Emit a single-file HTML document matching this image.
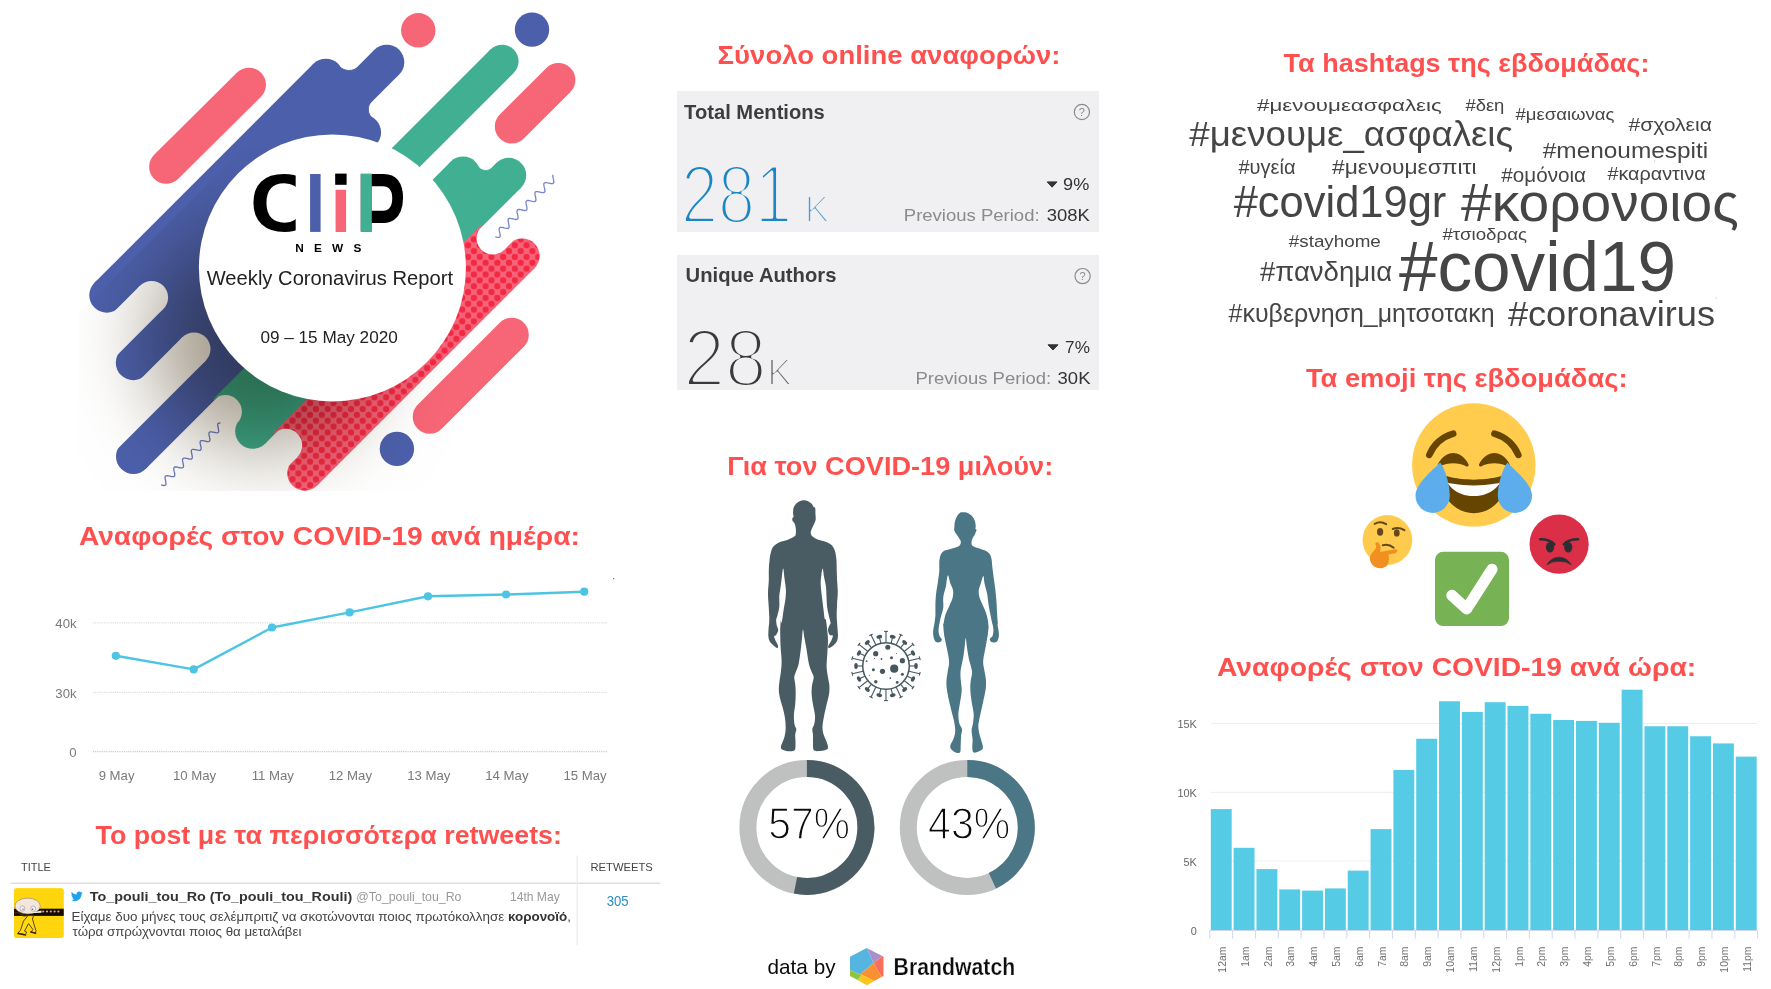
<!DOCTYPE html>
<html lang="el"><head><meta charset="utf-8"><title>CLiP News – Weekly Coronavirus Report</title>
<style>
html,body{margin:0;padding:0;background:#fff;}
body{width:1771px;height:989px;overflow:hidden;position:relative;font-family:"Liberation Sans", "DejaVu Sans", sans-serif;}
svg{position:absolute;left:0;top:0;display:block}
text{font-family:"Liberation Sans", "DejaVu Sans", sans-serif;}
</style></head><body>
<svg width="1771" height="989" viewBox="0 0 1771 989">
<defs>
<mask id="mBlue" maskUnits="userSpaceOnUse" x="0" y="0" width="700" height="520"><g stroke="#fff" fill="#fff"><line x1="106.8" y1="295.2" x2="325.8" y2="76.2" stroke-width="35"/><circle cx="106.8" cy="295.2" r="17.50" stroke="none"/><circle cx="325.8" cy="76.2" r="17.50" stroke="none"/><line x1="151.6" y1="297.4" x2="386.8" y2="62.2" stroke-width="35"/><circle cx="386.8" cy="62.2" r="17.50" stroke="none"/><line x1="133.3" y1="362.7" x2="363.6" y2="132.4" stroke-width="35"/><circle cx="133.3" cy="362.7" r="17.50" stroke="none"/><circle cx="363.6" cy="132.4" r="17.50" stroke="none"/><line x1="194.0" y1="349.0" x2="313.9" y2="229.1" stroke-width="35"/><circle cx="313.9" cy="229.1" r="17.50" stroke="none"/><line x1="133.5" y1="456.5" x2="337.4" y2="252.6" stroke-width="35"/><circle cx="133.5" cy="456.5" r="17.50" stroke="none"/><circle cx="337.4" cy="252.6" r="17.50" stroke="none"/><path d="M363.6 132.4 L351.9 120.7 L371.8 100.8 A12 12 0 0 0 373.3 119.0 Z"/><path d="M325.8 76.2 L337.5 87.9 L359.0 66.4 A14 14 0 0 1 338.4 65.5 Z"/></g><g stroke="#000" fill="#000"><line x1="12.4" y1="436.6" x2="151.6" y2="297.4" stroke-width="33"/><circle cx="12.4" cy="436.6" r="16.50" stroke="none"/><circle cx="151.6" cy="297.4" r="16.50" stroke="none"/><line x1="59.4" y1="483.6" x2="194.0" y2="349.0" stroke-width="33"/><circle cx="59.4" cy="483.6" r="16.50" stroke="none"/><circle cx="194.0" cy="349.0" r="16.50" stroke="none"/></g></mask><mask id="mGreen" maskUnits="userSpaceOnUse" x="0" y="0" width="700" height="520"><g stroke="#fff" fill="#fff"><line x1="225.4" y1="411.6" x2="463.0" y2="174.0" stroke-width="35"/><circle cx="463.0" cy="174.0" r="17.50" stroke="none"/><line x1="252.7" y1="431.3" x2="508.7" y2="175.3" stroke-width="35"/><circle cx="252.7" cy="431.3" r="17.50" stroke="none"/><circle cx="508.7" cy="175.3" r="17.50" stroke="none"/><path d="M463.0 174.0 L474.6 185.7 L492.8 167.5 A10 10 0 0 1 477.1 165.6 Z"/></g><g stroke="#000" fill="#000"><line x1="106.4" y1="530.6" x2="225.4" y2="411.6" stroke-width="33"/><circle cx="106.4" cy="530.6" r="16.50" stroke="none"/><circle cx="225.4" cy="411.6" r="16.50" stroke="none"/></g></mask><mask id="mRed" maskUnits="userSpaceOnUse" x="0" y="0" width="700" height="520"><g stroke="#fff" fill="#fff"><line x1="285.7" y1="445.3" x2="492.8" y2="238.2" stroke-width="35"/><line x1="304.8" y1="473.2" x2="522.1" y2="255.9" stroke-width="35"/><circle cx="304.8" cy="473.2" r="17.50" stroke="none"/><circle cx="522.1" cy="255.9" r="17.50" stroke="none"/></g><g stroke="#000" fill="#000"><line x1="153.4" y1="577.6" x2="285.7" y2="445.3" stroke-width="33"/><circle cx="153.4" cy="577.6" r="16.50" stroke="none"/><circle cx="285.7" cy="445.3" r="16.50" stroke="none"/><line x1="492.8" y1="238.2" x2="648.3" y2="82.7" stroke-width="32.4"/><circle cx="492.8" cy="238.2" r="16.20" stroke="none"/><circle cx="648.3" cy="82.7" r="16.20" stroke="none"/></g></mask><pattern id="polka" patternUnits="userSpaceOnUse" width="11.7" height="11.7" x="5.9" y="5.4"><rect width="11.7" height="11.7" fill="#F7647A"/><g fill="#F32943"><circle cx="0" cy="0" r="3.1"/><circle cx="11.7" cy="0" r="3.1"/><circle cx="0" cy="11.7" r="3.1"/><circle cx="11.7" cy="11.7" r="3.1"/><circle cx="5.85" cy="5.85" r="3.1"/></g></pattern><filter id="blur30" x="-50%" y="-50%" width="200%" height="200%"><feGaussianBlur stdDeviation="42"/></filter><clipPath id="artclip"><polygon points="392,0 620,0 620,491 78,491 78,314"/></clipPath><clipPath id="cclip"><rect x="0" y="-80" width="41.8" height="100"/></clipPath><clipPath id="pclip"><rect x="0" y="-90" width="70" height="76.3"/></clipPath><clipPath id="circ"><circle cx="332.4" cy="267.9" r="133.5"/></clipPath><filter id="avblur" x="-10%" y="-10%" width="120%" height="120%"><feGaussianBlur stdDeviation="0.55"/></filter>
</defs>
<text x="717.6" y="63.9" font-size="25.5" font-weight="bold" fill="#FF5050" textLength="342.9" lengthAdjust="spacingAndGlyphs">Σύνολο online αναφορών:</text>
<text x="1283.6" y="71.6" font-size="25.5" font-weight="bold" fill="#FF5050" textLength="365.8" lengthAdjust="spacingAndGlyphs">Τα hashtags της εβδομάδας:</text>
<text x="1305.9" y="386.5" font-size="25.5" font-weight="bold" fill="#FF5050" textLength="321.6" lengthAdjust="spacingAndGlyphs">Τα emoji της εβδομάδας:</text>
<text x="727.3" y="474.6" font-size="25.5" font-weight="bold" fill="#FF5050" textLength="325.9" lengthAdjust="spacingAndGlyphs">Για τον COVID-19 μιλούν:</text>
<text x="78.9" y="545.1" font-size="26" font-weight="bold" fill="#FF5050" textLength="501.0" lengthAdjust="spacingAndGlyphs">Αναφορές στον COVID-19 ανά ημέρα:</text>
<text x="1217.0" y="675.5" font-size="25.5" font-weight="bold" fill="#FF5050" textLength="479.2" lengthAdjust="spacingAndGlyphs">Αναφορές στον COVID-19 ανά ώρα:</text>
<text x="95.5" y="843.9" font-size="25.5" font-weight="bold" fill="#FF5050" textLength="466.4" lengthAdjust="spacingAndGlyphs">Το post με τα περισσότερα retweets:</text>
<g id="art">
<g stroke-width="34" stroke-linecap="round" fill="none">
<line x1="166.1" y1="166.8" x2="249" y2="84.7" stroke="#F76676"/>
<line x1="511.8" y1="126.6" x2="558.4" y2="80" stroke="#F76676"/>
<line x1="429.7" y1="416.8" x2="511.8" y2="334.7" stroke="#F76676"/>
</g>
<circle cx="418.3" cy="30.3" r="17.2" fill="#F76676"/><circle cx="532" cy="29.6" r="17.2" fill="#4C5FAB"/><circle cx="396.9" cy="448.9" r="17.2" fill="#4C5FAB"/>
<g><line x1="352.4" y1="210.9" x2="502.1" y2="61.2" stroke="#41B092" stroke-width="33"/><circle cx="352.4" cy="210.9" r="16.50" fill="#41B092" stroke="none"/><circle cx="502.1" cy="61.2" r="16.50" fill="#41B092" stroke="none"/></g>
<rect x="60" y="0" width="560" height="520" fill="#4C5FAB" mask="url(#mBlue)"/>
<rect x="60" y="0" width="560" height="520" fill="#41B092" mask="url(#mGreen)"/>
<rect x="60" y="0" width="560" height="520" fill="url(#polka)" mask="url(#mRed)"/>
<path d="M495.2 236.8 L496.7 237.1 L498.0 237.3 L499.0 237.3 L499.8 236.9 L500.2 236.2 L500.2 235.1 L500.0 233.8 L499.7 232.3 L499.3 230.9 L499.1 229.5 L499.2 228.5 L499.6 227.7 L500.3 227.4 L501.4 227.3 L502.7 227.5 L504.2 227.9 L505.6 228.2 L506.9 228.4 L508.0 228.3 L508.7 227.9 L509.1 227.2 L509.1 226.1 L508.9 224.8 L508.6 223.3 L508.3 221.9 L508.1 220.6 L508.1 219.5 L508.5 218.8 L509.3 218.4 L510.4 218.4 L511.7 218.6 L513.2 218.9 L514.6 219.3 L515.9 219.5 L517.0 219.4 L517.7 219.0 L518.0 218.2 L518.1 217.1 L517.9 215.8 L517.5 214.3 L517.2 212.9 L517.0 211.6 L517.1 210.5 L517.5 209.8 L518.3 209.5 L519.4 209.5 L520.7 209.7 L522.2 210.0 L523.6 210.3 L524.9 210.5 L525.9 210.4 L526.6 210.0 L527.0 209.2 L527.0 208.2 L526.8 206.8 L526.5 205.4 L526.1 203.9 L526.0 202.6 L526.0 201.6 L526.5 200.9 L527.2 200.5 L528.3 200.5 L529.7 200.7 L531.1 201.1 L532.6 201.4 L533.9 201.6 L534.9 201.5 L535.6 201.1 L535.9 200.3 L535.9 199.2 L535.7 197.8 L535.4 196.4 L535.1 194.9 L534.9 193.6 L535.0 192.6 L535.4 191.9 L536.2 191.6 L537.3 191.6 L538.7 191.8 L540.1 192.2 L541.6 192.5 L542.9 192.6 L543.9 192.5 L544.6 192.1 L544.9 191.3 L544.9 190.2 L544.7 188.8 L544.3 187.4 L544.0 185.9 L543.8 184.7 L543.9 183.6 L544.4 183.0 L545.2 182.6 L546.3 182.6 L547.6 182.9 L549.1 183.2 L550.5 183.5 L551.8 183.7 L552.8 183.6 L553.5 183.1 L553.8 182.3 L553.8 181.2 L553.6 179.9 L553.2 178.4 L552.9 177.0 L552.8 175.7 L552.9 174.7" fill="none" stroke="#7885CB" stroke-width="1.3"/>
<path d="M161.1 485.0 L162.5 485.3 L163.8 485.5 L164.8 485.4 L165.6 485.1 L165.9 484.3 L166.0 483.3 L165.8 482.0 L165.5 480.6 L165.2 479.1 L165.0 477.9 L165.1 476.8 L165.4 476.1 L166.2 475.8 L167.2 475.7 L168.5 475.9 L170.0 476.2 L171.4 476.6 L172.7 476.7 L173.7 476.6 L174.4 476.2 L174.7 475.5 L174.8 474.4 L174.6 473.1 L174.2 471.7 L173.9 470.3 L173.8 469.0 L173.9 468.0 L174.3 467.3 L175.0 467.0 L176.1 466.9 L177.4 467.1 L178.8 467.5 L180.2 467.8 L181.5 467.9 L182.5 467.8 L183.2 467.4 L183.5 466.7 L183.5 465.6 L183.3 464.3 L183.0 462.8 L182.7 461.4 L182.5 460.2 L182.6 459.2 L183.1 458.5 L183.9 458.2 L185.0 458.2 L186.3 458.4 L187.7 458.7 L189.1 459.0 L190.4 459.2 L191.3 459.1 L192.0 458.6 L192.3 457.8 L192.3 456.7 L192.1 455.4 L191.8 454.0 L191.5 452.6 L191.3 451.3 L191.4 450.3 L191.9 449.7 L192.7 449.4 L193.8 449.4 L195.1 449.6 L196.6 449.9 L198.0 450.2 L199.2 450.4 L200.2 450.3 L200.8 449.8 L201.1 449.0 L201.1 447.9 L200.9 446.5 L200.5 445.1 L200.2 443.7 L200.1 442.5 L200.2 441.5 L200.7 440.9 L201.5 440.6 L202.7 440.6 L204.0 440.9 L205.4 441.2 L206.8 441.5 L208.1 441.6 L209.0 441.5 L209.6 441.0 L209.9 440.1 L209.9 439.0 L209.6 437.7 L209.3 436.2 L209.0 434.8 L208.9 433.6 L209.0 432.7 L209.5 432.1 L210.4 431.8 L211.5 431.8 L212.9 432.1 L214.3 432.4 L215.7 432.7 L216.9 432.8 L217.8 432.7 L218.4 432.1 L218.7 431.3 L218.6 430.2 L218.4 428.8 L218.1 427.4 L217.8 426.0 L217.7 424.8 L217.8 423.9 L218.4 423.3 L219.2 423.0 L220.4 423.1" fill="none" stroke="#6D7AC0" stroke-width="1.3"/>
<g clip-path="url(#artclip)" style="mix-blend-mode:multiply"><circle cx="262" cy="338" r="112" fill="#a59c8d" filter="url(#blur30)"/></g>
<circle cx="332.4" cy="267.9" r="133.5" fill="#fff"/>
<g font-weight="bold" id="cliplogo"><text transform="translate(249.7,230.9) scale(1.1,1)" font-size="81.6" fill="#000" clip-path="url(#cclip)">C</text><text transform="translate(304.8,231.6) scale(0.969,1)" font-size="78.9" fill="#4C5FAB">l</text><text transform="translate(330.25,231.6) scale(0.969,1)" font-size="78.9" fill="#F76676">i</text><text transform="translate(355.86,249.6) scale(0.896,1.315)" font-size="83.5" fill="#000" clip-path="url(#pclip)">P</text></g>
<rect x="335.2" y="173.6" width="11.4" height="11.2" fill="#000"/>
<rect x="360.9" y="173.6" width="10.9" height="58.2" fill="#41B092"/>
<text x="295.3" y="252.4" font-size="11.8" font-weight="bold" fill="#000" textLength="66" lengthAdjust="spacing">NEWS</text>
<text x="206.7" y="284.7" font-size="20" fill="#222" textLength="246.3" lengthAdjust="spacingAndGlyphs">Weekly Coronavirus Report</text>
<text x="260.4" y="343" font-size="16.3" fill="#222" textLength="137.4" lengthAdjust="spacingAndGlyphs">09 – 15 May 2020</text>
</g>
<rect x="677" y="91" width="422" height="141" fill="#F0F0F2"/>
<rect x="677" y="255" width="422" height="135" fill="#F0F0F2"/>
<text x="684.1" y="118.7" font-size="20" fill="#3d3d3d" font-weight="bold" textLength="140.7" lengthAdjust="spacingAndGlyphs" >Total Mentions</text>
<text x="685.6" y="282.3" font-size="19.7" fill="#3d3d3d" font-weight="bold" textLength="150.8" lengthAdjust="spacingAndGlyphs" >Unique Authors</text>
<text x="681.0" y="223.2" font-size="83" fill="#1C86C4" stroke="#F0F0F2" stroke-width="3.9" stroke-linejoin="round" textLength="111.0" lengthAdjust="spacingAndGlyphs">281</text>
<text x="804.8" y="222.4" font-size="37" fill="#4C9FD2" stroke="#F0F0F2" stroke-width="2.0" stroke-linejoin="round">K</text>
<text x="683.5" y="386.2" font-size="82" fill="#3a3a3a" stroke="#F0F0F2" stroke-width="3.9" stroke-linejoin="round" textLength="83.0" lengthAdjust="spacingAndGlyphs">28</text>
<text x="767.2" y="385.4" font-size="37" fill="#666" stroke="#F0F0F2" stroke-width="2.0" stroke-linejoin="round">K</text>
<circle cx="1081.9" cy="112" r="7.6" fill="none" stroke="#8a8a8a" stroke-width="1.2"/>
<text x="1081.9" y="115.9" font-size="11" fill="#8a8a8a" text-anchor="middle">?</text>
<circle cx="1082.6" cy="276.1" r="7.6" fill="none" stroke="#8a8a8a" stroke-width="1.2"/>
<text x="1082.6" y="280.0" font-size="11" fill="#8a8a8a" text-anchor="middle">?</text>
<path d="M1047.2 181.9 L1057 181.9 L1052.1 187.2 Z" fill="#333" stroke="#333" stroke-width="1" stroke-linejoin="round"/>
<path d="M1048 344.8 L1058 344.8 L1053.0 350 Z" fill="#333" stroke="#333" stroke-width="1" stroke-linejoin="round"/>
<text x="1063.1" y="189.7" font-size="17.2" fill="#333" textLength="26.2" lengthAdjust="spacingAndGlyphs" >9%</text>
<text x="1065.1" y="353.1" font-size="17.2" fill="#333" textLength="24.8" lengthAdjust="spacingAndGlyphs" >7%</text>
<text x="903.8" y="221.3" font-size="17.4" fill="#8a8a8a" textLength="135.8" lengthAdjust="spacingAndGlyphs" >Previous Period:</text>
<text x="1046.7" y="221.3" font-size="17.4" fill="#333" textLength="43.1" lengthAdjust="spacingAndGlyphs" >308K</text>
<text x="915.5" y="384.2" font-size="17.4" fill="#8a8a8a" textLength="135.7" lengthAdjust="spacingAndGlyphs" >Previous Period:</text>
<text x="1057.6" y="384.2" font-size="17.4" fill="#333" textLength="32.9" lengthAdjust="spacingAndGlyphs" >30K</text>
<path d="M803.6 500.3 C804.9 500.2 806.2 500.4 807.6 500.9 C808.9 501.5 810.5 502.6 811.5 503.5 C812.5 504.5 812.9 506.1 813.5 506.8 C814.1 507.6 814.9 507.0 815.2 508.1 C815.5 509.2 815.4 511.5 815.4 513.4 C815.5 515.3 815.9 517.6 815.7 519.3 C815.5 521.1 814.7 522.5 814.1 523.9 C813.5 525.3 812.7 526.5 812.2 527.9 C811.6 529.2 811.0 530.7 810.8 531.8 C810.7 532.9 810.7 533.8 811.1 534.7 C811.5 535.6 812.3 536.5 813.5 537.3 C814.6 538.1 816.0 538.9 818.1 539.7 C820.2 540.4 823.8 541.1 826.0 541.9 C828.1 542.7 829.9 543.6 831.2 544.7 C832.5 545.7 833.1 546.9 833.8 548.2 C834.5 549.6 835.0 550.7 835.4 552.8 C835.9 554.9 836.3 557.9 836.5 560.7 C836.7 563.6 836.6 566.6 836.7 569.9 C836.8 573.2 837.0 576.7 837.1 580.4 C837.3 584.1 837.8 588.5 837.8 592.2 C837.8 596.0 837.3 599.2 837.1 602.8 C837.0 606.3 836.8 610.4 836.7 613.3 C836.7 616.1 836.7 617.5 836.9 620.0 C837.0 622.5 837.4 625.5 837.5 628.2 C837.7 630.9 838.1 634.1 837.9 636.4 C837.8 638.6 837.4 640.2 836.6 641.8 C835.7 643.4 834.1 644.9 832.8 645.9 C831.4 646.9 829.4 648.0 828.7 648.0 C827.9 647.9 827.9 646.9 828.4 645.6 C828.9 644.4 830.7 642.1 831.4 640.5 C832.1 638.8 833.0 636.6 832.8 635.7 C832.5 634.8 830.6 635.9 829.8 635.0 C829.0 634.1 828.1 631.8 828.0 630.2 C827.9 628.6 828.9 626.6 829.4 625.5 C829.8 624.3 830.6 624.5 830.6 623.1 C830.5 621.7 829.8 619.7 829.2 617.2 C828.7 614.7 827.7 611.1 827.3 608.0 C826.8 604.9 826.8 602.3 826.6 598.8 C826.4 595.3 826.4 590.7 826.0 587.0 C825.5 583.3 824.5 579.5 824.0 576.5 C823.4 573.4 823.1 568.8 822.7 568.6 C822.2 568.4 821.7 572.5 821.4 575.2 C821.0 577.8 820.6 580.6 820.7 584.4 C820.8 588.1 821.6 593.6 822.0 597.5 C822.5 601.4 822.9 604.5 823.3 608.0 C823.8 611.5 824.2 616.5 824.6 618.5 C825.1 620.5 825.5 617.9 825.9 620.0 C826.4 622.1 827.0 627.5 827.3 630.9 C827.6 634.3 828.0 636.6 828.0 640.5 C828.0 644.3 827.5 649.8 827.3 654.1 C827.1 658.4 826.5 662.5 826.6 666.4 C826.7 670.3 827.5 674.1 828.0 677.3 C828.4 680.5 829.2 682.8 829.4 685.5 C829.5 688.2 829.5 690.5 829.1 693.7 C828.6 696.9 827.5 700.7 826.6 704.6 C825.8 708.4 824.6 713.2 823.9 716.9 C823.2 720.5 822.6 723.7 822.5 726.4 C822.4 729.1 822.6 731.0 823.2 733.2 C823.8 735.5 825.1 737.8 825.9 740.1 C826.7 742.3 827.9 745.3 828.0 746.9 C828.1 748.5 827.9 748.9 826.6 749.6 C825.4 750.3 822.6 750.9 820.5 751.0 C818.4 751.1 815.2 751.7 813.9 750.3 C812.7 748.9 813.1 745.4 813.0 742.8 C812.8 740.2 813.1 736.9 813.0 734.6 C812.9 732.3 812.1 731.0 812.3 729.1 C812.5 727.3 813.9 726.0 814.3 723.7 C814.8 721.4 815.3 718.7 815.0 715.5 C814.8 712.3 813.5 708.2 813.0 704.6 C812.4 700.9 811.8 696.9 811.6 693.7 C811.5 690.5 811.7 688.2 812.0 685.5 C812.4 682.8 813.7 679.6 813.7 677.3 C813.6 675.0 812.4 674.1 811.6 671.8 C810.8 669.6 809.8 667.7 808.9 663.7 C808.0 659.6 806.9 651.6 806.2 647.3 C805.4 643.0 804.9 640.7 804.4 637.7 C803.9 634.8 803.4 629.5 803.0 629.5 C802.6 629.5 802.5 634.3 802.1 637.7 C801.7 641.1 801.3 645.7 800.7 650.0 C800.1 654.3 799.5 660.0 798.7 663.7 C797.9 667.3 796.7 669.6 795.9 671.8 C795.2 674.1 794.4 675.3 794.3 677.3 C794.2 679.3 795.0 681.4 795.2 684.1 C795.5 686.8 795.7 690.3 795.7 693.7 C795.7 697.1 795.5 700.9 795.2 704.6 C794.9 708.2 794.0 712.1 793.9 715.5 C793.8 718.9 794.2 722.8 794.6 725.0 C795.0 727.3 796.2 727.5 796.3 729.1 C796.5 730.7 795.4 732.3 795.2 734.6 C795.1 736.9 795.6 740.2 795.5 742.8 C795.4 745.4 795.9 748.9 794.6 750.3 C793.3 751.7 789.8 751.4 787.7 751.2 C785.7 751.1 783.4 750.3 782.3 749.6 C781.1 748.9 780.9 748.0 780.9 746.9 C780.9 745.7 781.6 744.6 782.3 742.8 C782.9 741.0 784.2 738.5 784.7 736.0 C785.3 733.5 785.7 730.7 785.7 727.8 C785.7 724.8 785.5 721.4 785.0 718.2 C784.6 715.0 783.8 711.9 783.0 708.7 C782.2 705.5 780.9 702.1 780.2 699.1 C779.6 696.2 779.0 693.7 778.9 690.9 C778.7 688.2 778.9 685.9 779.3 682.8 C779.6 679.6 780.5 675.5 780.9 671.8 C781.3 668.2 781.6 665.0 781.6 660.9 C781.6 656.8 780.9 652.3 780.6 647.3 C780.4 642.3 780.2 635.5 780.2 630.9 C780.3 626.4 780.7 621.3 780.9 620.0 C781.1 618.7 781.0 623.6 781.3 623.1 C781.6 622.7 782.2 619.7 782.6 617.2 C783.0 614.7 783.4 611.1 783.9 608.0 C784.4 604.9 785.2 601.9 785.5 598.8 C785.8 595.7 786.0 592.9 785.9 589.6 C785.7 586.3 785.0 582.6 784.6 579.1 C784.1 575.6 783.7 569.0 783.3 568.6 C782.8 568.1 782.4 573.4 781.9 576.5 C781.5 579.5 781.1 583.7 780.6 587.0 C780.2 590.3 779.5 592.9 779.3 596.2 C779.1 599.5 779.6 603.4 779.3 606.7 C779.0 610.0 777.9 613.7 777.3 615.9 C776.8 618.1 776.2 618.4 776.1 620.0 C776.1 621.6 776.5 623.8 776.8 625.5 C777.2 627.2 778.3 628.6 778.2 630.2 C778.1 631.8 776.8 634.0 776.1 635.0 C775.5 636.0 774.2 635.5 774.1 636.4 C774.0 637.3 774.8 639.0 775.5 640.5 C776.1 641.9 777.6 644.0 777.9 645.2 C778.3 646.5 778.1 647.9 777.5 648.0 C776.9 648.1 775.4 646.9 774.1 645.9 C772.8 644.9 771.0 643.4 770.0 641.8 C769.1 640.2 768.6 638.6 768.4 636.4 C768.1 634.1 768.5 630.9 768.6 628.2 C768.8 625.5 769.3 623.4 769.3 620.0 C769.4 616.6 769.0 611.8 768.8 608.0 C768.6 604.3 768.3 600.6 768.1 597.5 C768.0 594.4 768.0 592.5 768.1 589.6 C768.3 586.8 768.7 583.7 768.8 580.4 C768.9 577.1 768.7 573.2 768.8 569.9 C768.9 566.6 769.1 563.6 769.5 560.7 C769.8 557.9 770.2 555.0 770.8 552.8 C771.3 550.6 771.9 549.0 772.7 547.6 C773.6 546.1 774.6 545.3 776.0 544.3 C777.4 543.3 779.3 542.4 781.3 541.6 C783.3 540.9 785.8 540.5 787.9 539.7 C789.9 538.9 792.5 537.7 793.8 536.8 C795.1 535.9 795.4 535.9 795.7 534.4 C796.1 532.9 796.0 529.7 795.7 527.9 C795.5 526.0 794.9 524.3 794.4 523.3 C793.9 522.2 793.2 522.0 792.8 521.3 C792.5 520.5 792.1 519.4 792.2 518.7 C792.3 517.9 793.3 517.6 793.5 516.7 C793.7 515.8 793.1 514.8 793.1 513.4 C793.1 512.0 793.1 509.7 793.5 508.1 C793.9 506.6 794.7 505.3 795.7 504.2 C796.8 503.1 798.4 502.0 799.7 501.3 C801.0 500.7 802.3 500.3 803.6 500.3 Z" fill="#495C63"/>
<path d="M963.0 512.2 C964.2 512.3 966.0 512.2 967.6 512.9 C969.1 513.5 971.0 514.9 972.2 516.2 C973.4 517.5 974.2 519.1 974.8 520.8 C975.4 522.4 975.6 524.7 975.7 526.0 C975.8 527.3 975.3 528.0 975.4 528.7 C975.6 529.3 976.6 529.0 976.5 530.0 C976.4 531.0 975.5 533.0 974.8 534.6 C974.1 536.1 972.7 537.7 972.2 539.2 C971.6 540.6 971.5 542.0 971.5 543.1 C971.5 544.2 971.5 545.0 972.4 545.7 C973.3 546.5 974.7 546.9 976.8 547.7 C978.8 548.5 982.6 549.3 984.6 550.3 C986.7 551.3 988.1 552.2 989.2 553.6 C990.4 555.0 991.0 556.7 991.5 558.9 C992.0 561.1 991.9 563.5 992.3 566.8 C992.7 570.0 993.3 574.6 993.8 578.6 C994.4 582.5 995.0 586.5 995.4 590.4 C995.9 594.4 996.2 598.3 996.5 602.2 C996.8 606.2 996.9 610.6 997.1 614.1 C997.3 617.6 997.7 621.4 997.8 623.3 C997.9 625.1 997.4 623.8 997.5 625.0 C997.7 626.2 998.3 628.6 998.5 630.5 C998.7 632.3 999.1 634.2 998.9 635.9 C998.7 637.6 998.2 639.6 997.5 640.7 C996.9 641.8 995.9 642.3 994.8 642.5 C993.7 642.6 991.5 642.0 990.7 641.4 C989.9 640.7 989.7 639.6 990.0 638.6 C990.3 637.7 991.9 637.3 992.5 635.9 C993.1 634.5 993.4 632.3 993.4 630.5 C993.5 628.6 992.9 626.0 992.8 625.0 C992.6 624.0 992.9 626.2 992.5 624.6 C992.2 623.0 991.2 618.7 990.6 615.4 C989.9 612.1 989.1 608.4 988.6 604.9 C988.0 601.4 987.9 597.9 987.3 594.4 C986.6 590.9 985.3 586.9 984.6 583.8 C984.0 580.8 984.0 576.0 983.3 576.0 C982.7 576.0 981.5 581.4 980.7 583.8 C979.9 586.3 979.0 588.2 978.7 590.4 C978.5 592.6 978.8 594.8 979.4 597.0 C979.9 599.2 980.9 600.9 982.0 603.6 C983.1 606.2 985.0 609.9 986.0 612.8 C986.9 615.6 987.5 618.0 987.9 620.6 C988.4 623.3 988.5 627.8 988.6 628.5 C988.7 629.2 988.8 624.2 988.7 625.0 C988.6 625.8 988.4 629.8 988.0 633.2 C987.5 636.6 986.7 640.9 985.9 645.5 C985.1 650.0 983.5 656.4 983.2 660.5 C982.9 664.6 983.8 666.8 984.3 670.0 C984.8 673.2 985.7 676.4 985.9 679.6 C986.2 682.8 986.1 685.5 985.7 689.1 C985.2 692.8 984.1 697.3 983.2 701.4 C982.3 705.5 981.3 709.8 980.5 713.7 C979.7 717.5 978.7 721.4 978.4 724.6 C978.2 727.8 978.6 729.8 979.1 732.8 C979.7 735.7 981.2 739.7 981.8 742.3 C982.5 744.9 983.3 747.0 982.8 748.5 C982.3 749.9 980.6 750.5 979.1 751.2 C977.6 751.9 974.8 753.1 973.7 752.6 C972.5 752.0 972.5 749.9 972.3 747.8 C972.1 745.6 972.7 742.6 972.6 739.6 C972.5 736.6 971.5 732.8 971.6 730.0 C971.7 727.3 972.6 726.0 973.0 723.2 C973.3 720.5 973.9 717.3 973.7 713.7 C973.4 710.0 972.2 705.5 971.6 701.4 C971.0 697.3 970.4 692.8 970.3 689.1 C970.1 685.5 970.6 682.5 970.9 679.6 C971.2 676.6 972.4 674.8 972.0 671.4 C971.7 668.0 969.7 663.0 968.9 659.1 C968.1 655.2 967.6 651.7 967.1 648.2 C966.6 644.7 966.1 638.4 965.8 638.0 C965.4 637.5 965.2 642.4 964.8 645.5 C964.4 648.5 964.1 652.3 963.4 656.4 C962.7 660.5 961.2 666.2 960.7 670.0 C960.2 673.9 960.5 676.2 960.7 679.6 C960.9 683.0 961.8 686.6 961.7 690.5 C961.5 694.3 960.6 698.9 960.0 702.8 C959.5 706.6 958.5 710.3 958.4 713.7 C958.3 717.1 958.7 720.6 959.3 723.2 C960.0 725.8 961.8 727.3 962.1 729.4 C962.4 731.4 961.3 732.9 961.1 735.5 C960.9 738.1 960.9 742.2 960.7 745.1 C960.5 747.9 961.0 751.4 960.0 752.6 C959.0 753.7 956.1 752.6 954.6 751.9 C953.0 751.2 951.4 749.6 950.7 748.5 C950.1 747.3 950.1 746.5 950.5 745.1 C950.9 743.6 952.4 741.9 953.2 739.6 C954.0 737.3 955.1 734.6 955.2 731.4 C955.4 728.2 954.7 724.6 953.9 720.5 C953.1 716.4 951.5 711.4 950.5 706.9 C949.4 702.3 948.2 697.3 947.5 693.2 C946.8 689.1 946.3 685.9 946.4 682.3 C946.4 678.7 947.3 674.8 947.7 671.4 C948.2 668.0 949.2 665.5 949.1 661.8 C949.0 658.2 947.9 653.9 947.1 649.6 C946.3 645.2 945.0 640.0 944.3 635.9 C943.7 631.8 943.4 627.1 943.2 625.0 C943.1 622.9 943.3 624.9 943.6 623.3 C944.0 621.7 944.3 618.2 945.2 615.4 C946.1 612.5 948.0 609.0 949.2 606.2 C950.4 603.3 951.8 600.9 952.5 598.3 C953.1 595.7 953.4 592.8 953.1 590.4 C952.8 588.0 951.4 586.4 950.5 583.8 C949.6 581.3 948.6 574.9 947.9 575.3 C947.1 575.7 946.6 582.9 945.9 586.5 C945.1 590.1 943.7 593.5 943.3 597.0 C942.8 600.5 943.7 604.0 943.3 607.5 C942.8 611.0 941.4 614.7 940.6 618.0 C939.9 621.3 938.9 626.0 938.7 627.2 C938.4 628.4 939.3 624.5 939.3 625.0 C939.3 625.5 938.4 628.6 938.5 630.5 C938.5 632.3 939.0 634.4 939.6 635.9 C940.1 637.4 941.8 638.3 941.9 639.3 C942.0 640.3 941.2 641.6 940.2 642.1 C939.3 642.5 937.2 642.7 936.1 642.1 C935.1 641.4 934.3 639.7 933.8 638.0 C933.3 636.3 933.1 634.0 933.1 631.8 C933.2 629.7 933.9 626.0 934.1 625.0 C934.3 624.0 933.8 627.5 934.1 625.9 C934.3 624.3 935.1 618.9 935.4 615.4 C935.6 611.9 935.3 608.4 935.4 604.9 C935.5 601.4 935.6 598.3 936.0 594.4 C936.5 590.4 937.4 585.2 938.0 581.2 C938.5 577.3 939.1 574.0 939.3 570.7 C939.5 567.4 939.1 564.1 939.3 561.5 C939.5 558.9 939.9 556.7 940.6 554.9 C941.4 553.2 942.3 552.0 943.9 551.0 C945.6 550.0 948.3 549.7 950.5 549.0 C952.7 548.4 955.4 547.8 957.0 547.0 C958.7 546.3 959.7 545.4 960.3 544.4 C960.9 543.4 960.9 542.2 960.7 541.1 C960.5 540.0 959.9 539.2 959.0 537.9 C958.2 536.5 956.5 534.6 955.7 533.3 C954.9 531.9 954.4 531.0 954.2 530.0 C953.9 529.0 954.3 528.7 954.4 527.3 C954.5 526.0 954.4 523.9 954.8 522.1 C955.3 520.2 956.1 517.7 957.0 516.2 C958.0 514.6 959.3 513.3 960.3 512.6 C961.3 512.0 961.8 512.2 963.0 512.2 Z" fill="#4A7686"/>
<g stroke="#46585E" fill="#46585E" stroke-linecap="butt"><circle cx="886.0" cy="666.0" r="23.3" fill="none" stroke-width="1.5"/><line x1="886.0" y1="642.5" x2="886.0" y2="631.4" stroke-width="1.1"/><line x1="884.1" y1="631.4" x2="887.9" y2="631.4" stroke-width="1.1"/><line x1="891.2" y1="643.1" x2="892.5" y2="637.7" stroke-width="1.1"/><ellipse cx="892.7" cy="636.8" rx="1.8" ry="2.9" transform="rotate(-77.14 892.7 636.8)" stroke="none"/><line x1="896.2" y1="644.8" x2="901.0" y2="634.8" stroke-width="1.1"/><line x1="899.3" y1="634.0" x2="902.7" y2="635.7" stroke-width="1.1"/><line x1="900.7" y1="647.6" x2="904.1" y2="643.3" stroke-width="1.1"/><ellipse cx="904.7" cy="642.5" rx="1.8" ry="2.9" transform="rotate(-51.43 904.7 642.5)" stroke="none"/><line x1="904.4" y1="651.3" x2="913.1" y2="644.4" stroke-width="1.1"/><line x1="911.9" y1="642.9" x2="914.2" y2="645.9" stroke-width="1.1"/><line x1="907.2" y1="655.8" x2="912.1" y2="653.4" stroke-width="1.1"/><ellipse cx="913.0" cy="653.0" rx="1.8" ry="2.9" transform="rotate(-25.71 913.0 653.0)" stroke="none"/><line x1="908.9" y1="660.8" x2="919.7" y2="658.3" stroke-width="1.1"/><line x1="919.3" y1="656.4" x2="920.2" y2="660.2" stroke-width="1.1"/><line x1="909.5" y1="666.0" x2="915.0" y2="666.0" stroke-width="1.1"/><ellipse cx="916.0" cy="666.0" rx="1.8" ry="2.9" transform="rotate(0.00 916.0 666.0)" stroke="none"/><line x1="908.9" y1="671.2" x2="919.7" y2="673.7" stroke-width="1.1"/><line x1="920.2" y1="671.8" x2="919.3" y2="675.6" stroke-width="1.1"/><line x1="907.2" y1="676.2" x2="912.1" y2="678.6" stroke-width="1.1"/><ellipse cx="913.0" cy="679.0" rx="1.8" ry="2.9" transform="rotate(25.71 913.0 679.0)" stroke="none"/><line x1="904.4" y1="680.7" x2="913.1" y2="687.6" stroke-width="1.1"/><line x1="914.2" y1="686.1" x2="911.9" y2="689.1" stroke-width="1.1"/><line x1="900.7" y1="684.4" x2="904.1" y2="688.7" stroke-width="1.1"/><ellipse cx="904.7" cy="689.5" rx="1.8" ry="2.9" transform="rotate(51.43 904.7 689.5)" stroke="none"/><line x1="896.2" y1="687.2" x2="901.0" y2="697.2" stroke-width="1.1"/><line x1="902.7" y1="696.3" x2="899.3" y2="698.0" stroke-width="1.1"/><line x1="891.2" y1="688.9" x2="892.5" y2="694.3" stroke-width="1.1"/><ellipse cx="892.7" cy="695.2" rx="1.8" ry="2.9" transform="rotate(77.14 892.7 695.2)" stroke="none"/><line x1="886.0" y1="689.5" x2="886.0" y2="700.6" stroke-width="1.1"/><line x1="887.9" y1="700.6" x2="884.1" y2="700.6" stroke-width="1.1"/><line x1="880.8" y1="688.9" x2="879.5" y2="694.3" stroke-width="1.1"/><ellipse cx="879.3" cy="695.2" rx="1.8" ry="2.9" transform="rotate(102.86 879.3 695.2)" stroke="none"/><line x1="875.8" y1="687.2" x2="871.0" y2="697.2" stroke-width="1.1"/><line x1="872.7" y1="698.0" x2="869.3" y2="696.3" stroke-width="1.1"/><line x1="871.3" y1="684.4" x2="867.9" y2="688.7" stroke-width="1.1"/><ellipse cx="867.3" cy="689.5" rx="1.8" ry="2.9" transform="rotate(128.57 867.3 689.5)" stroke="none"/><line x1="867.6" y1="680.7" x2="858.9" y2="687.6" stroke-width="1.1"/><line x1="860.1" y1="689.1" x2="857.8" y2="686.1" stroke-width="1.1"/><line x1="864.8" y1="676.2" x2="859.9" y2="678.6" stroke-width="1.1"/><ellipse cx="859.0" cy="679.0" rx="1.8" ry="2.9" transform="rotate(154.29 859.0 679.0)" stroke="none"/><line x1="863.1" y1="671.2" x2="852.3" y2="673.7" stroke-width="1.1"/><line x1="852.7" y1="675.6" x2="851.8" y2="671.8" stroke-width="1.1"/><line x1="862.5" y1="666.0" x2="857.0" y2="666.0" stroke-width="1.1"/><ellipse cx="856.0" cy="666.0" rx="1.8" ry="2.9" transform="rotate(180.00 856.0 666.0)" stroke="none"/><line x1="863.1" y1="660.8" x2="852.3" y2="658.3" stroke-width="1.1"/><line x1="851.8" y1="660.2" x2="852.7" y2="656.4" stroke-width="1.1"/><line x1="864.8" y1="655.8" x2="859.9" y2="653.4" stroke-width="1.1"/><ellipse cx="859.0" cy="653.0" rx="1.8" ry="2.9" transform="rotate(205.71 859.0 653.0)" stroke="none"/><line x1="867.6" y1="651.3" x2="858.9" y2="644.4" stroke-width="1.1"/><line x1="857.8" y1="645.9" x2="860.1" y2="642.9" stroke-width="1.1"/><line x1="871.3" y1="647.6" x2="867.9" y2="643.3" stroke-width="1.1"/><ellipse cx="867.3" cy="642.5" rx="1.8" ry="2.9" transform="rotate(231.43 867.3 642.5)" stroke="none"/><line x1="875.8" y1="644.8" x2="871.0" y2="634.8" stroke-width="1.1"/><line x1="869.3" y1="635.7" x2="872.7" y2="634.0" stroke-width="1.1"/><line x1="880.8" y1="643.1" x2="879.5" y2="637.7" stroke-width="1.1"/><ellipse cx="879.3" cy="636.8" rx="1.8" ry="2.9" transform="rotate(257.14 879.3 636.8)" stroke="none"/><circle cx="887.8" cy="647.3" r="2.5" stroke="none"/><circle cx="875.7" cy="653.7" r="2.6" stroke="none"/><circle cx="902.4" cy="660.7" r="2.6" stroke="none"/><circle cx="894.2" cy="668.7" r="4.1" stroke="none"/><circle cx="882.5" cy="671.3" r="2.6" stroke="none"/><circle cx="891.5" cy="657.8" r="1.5" stroke="none"/><circle cx="873.4" cy="669.8" r="1.5" stroke="none"/><circle cx="875.8" cy="681.7" r="1.7" stroke="none"/><circle cx="902.4" cy="674.2" r="1.5" stroke="none"/><circle cx="897.2" cy="682.4" r="1.4" stroke="none"/><circle cx="881.5" cy="659.0" r="0.9" stroke="none"/><circle cx="866.6" cy="661.2" r="0.9" stroke="none"/><circle cx="890.3" cy="678.1" r="0.9" stroke="none"/><circle cx="874.5" cy="658.5" r="0.5" stroke="none"/><circle cx="896.5" cy="653.5" r="0.5" stroke="none"/><circle cx="869.4" cy="675.3" r="0.5" stroke="none"/></g>
<circle cx="806.9" cy="827.4" r="59" fill="none" stroke="#BFC1C0" stroke-width="17"/>
<path d="M806.9 768.4 A59 59 0 1 1 795.48 885.28" fill="none" stroke="#495C63" stroke-width="17"/>
<circle cx="967.3" cy="827.4" r="59" fill="none" stroke="#BFC1C0" stroke-width="17"/>
<path d="M967.3 768.4 A59 59 0 0 1 992.42 880.78" fill="none" stroke="#4A7686" stroke-width="17"/>
<text x="768.3" y="839.4" font-size="43.5" fill="#0a0a0a" stroke="#fff" stroke-width="1.35" stroke-linejoin="round" textLength="81.6" lengthAdjust="spacingAndGlyphs">57%</text>
<text x="928.1" y="839.4" font-size="43.5" fill="#0a0a0a" stroke="#fff" stroke-width="1.35" stroke-linejoin="round" textLength="82.2" lengthAdjust="spacingAndGlyphs">43%</text>
<text x="767.6" y="973.8" font-size="21" fill="#0a0a0a" textLength="67.9" lengthAdjust="spacingAndGlyphs">data by</text>
<g id="bwlogo" stroke-width="0.5" stroke-linejoin="round"><polygon points="866.7,948.1 850.0,956.8 850.0,970.0 859.9,974.6 873.6,962.9" fill="#56B5E0"/><polygon points="866.7,948.1 882.3,955.9 873.6,962.9" fill="#A98FCB"/><polygon points="882.3,955.9 883.5,956.8 883.5,976.0 881.5,977.0 873.6,962.9" fill="#FA6E5A"/><polygon points="873.6,962.9 881.5,977.0 874.3,981.0 861.8,974.8 859.9,974.6" fill="#F99132"/><polygon points="861.8,974.8 874.3,981.0 866.7,985.3 857.6,980.1" fill="#FDC31B"/><polygon points="850.0,970.0 859.9,974.6 861.8,974.8 857.6,980.1 850.0,976.0" fill="#8CC540"/></g>
<text x="893.6" y="975.4" font-size="23.8" font-weight="bold" fill="#0d0d0d" stroke="#fff" stroke-width="0.25" textLength="121.6" lengthAdjust="spacingAndGlyphs">Brandwatch</text>
<g id="cloud">
<text x="1257.1" y="111.3" font-size="17.4" fill="#454545" textLength="184.6" lengthAdjust="spacingAndGlyphs">#μενουμεασφαλεις</text>
<text x="1465.4" y="110.7" font-size="16.5" fill="#454545" textLength="39.0" lengthAdjust="spacingAndGlyphs">#δεη</text>
<text x="1515.4" y="119.7" font-size="16.1" fill="#454545" textLength="99.1" lengthAdjust="spacingAndGlyphs">#μεσαιωνας</text>
<text x="1628.4" y="130.7" font-size="18.5" fill="#454545" textLength="83.5" lengthAdjust="spacingAndGlyphs">#σχολεια</text>
<text x="1189.3" y="146.0" font-size="35.9" fill="#454545" textLength="323.9" lengthAdjust="spacingAndGlyphs">#μενουμε_ασφαλεις</text>
<text x="1542.8" y="157.5" font-size="21.8" fill="#454545" textLength="165.4" lengthAdjust="spacingAndGlyphs">#menoumespiti</text>
<text x="1238.4" y="173.9" font-size="19.3" fill="#454545" textLength="57.1" lengthAdjust="spacingAndGlyphs">#υγεία</text>
<text x="1332.1" y="174.4" font-size="20.4" fill="#454545" textLength="144.5" lengthAdjust="spacingAndGlyphs">#μενουμεσπιτι</text>
<text x="1501.3" y="181.6" font-size="19.9" fill="#454545" textLength="84.7" lengthAdjust="spacingAndGlyphs">#ομόνοια</text>
<text x="1607.4" y="180.2" font-size="19.0" fill="#454545" textLength="98.2" lengthAdjust="spacingAndGlyphs">#καραντινα</text>
<text x="1233.7" y="216.9" font-size="43.5" fill="#454545" textLength="212.6" lengthAdjust="spacingAndGlyphs">#covid19gr</text>
<text x="1461.0" y="220.7" font-size="53.1" fill="#454545" textLength="277.8" lengthAdjust="spacingAndGlyphs">#κορονοιος</text>
<text x="1288.8" y="247.4" font-size="16.8" fill="#454545" textLength="92.0" lengthAdjust="spacingAndGlyphs">#stayhome</text>
<text x="1442.4" y="239.6" font-size="16.5" fill="#454545" textLength="84.7" lengthAdjust="spacingAndGlyphs">#τσιοδρας</text>
<text x="1260.0" y="280.8" font-size="28.5" fill="#454545" textLength="132.1" lengthAdjust="spacingAndGlyphs">#πανδημια</text>
<text x="1398.9" y="291.0" font-size="70.5" fill="#454545" textLength="277.2" lengthAdjust="spacingAndGlyphs">#covid19</text>
<text x="1228.6" y="322.0" font-size="25.5" fill="#454545" textLength="266.0" lengthAdjust="spacingAndGlyphs">#κυβερνηση_μητσοτακη</text>
<text x="1507.9" y="325.7" font-size="34.6" fill="#454545" textLength="207.2" lengthAdjust="spacingAndGlyphs">#coronavirus</text>
<rect x="1654" y="160.6" width="1.2" height="0.9" fill="#b5b5b5"/><rect x="1715.5" y="297.6" width="1.6" height="0.9" fill="#c4c4c4"/>
</g>
<g transform="translate(1412.1,403.2) scale(3.4278)"><circle cx="18" cy="18" r="18" fill="#FFCC4D"/><path fill="#664500" d="M28.457 17.797c-.06-.135-1.499-3.297-4.457-3.297-2.957 0-4.397 3.162-4.457 3.297-.092.207-.032.449.145.591.175.142.426.147.61.014.012-.009 1.262-.902 3.702-.902 2.426 0 3.674.881 3.702.901.088.066.194.099.298.099.11 0 .221-.037.312-.109.177-.142.238-.386.145-.594zm-12 0c-.06-.135-1.499-3.297-4.457-3.297-2.957 0-4.397 3.162-4.457 3.297-.092.207-.032.449.144.591.176.142.427.147.61.014.013-.009 1.262-.902 3.703-.902 2.426 0 3.674.881 3.702.901.088.066.194.099.298.099.11 0 .221-.037.312-.109.178-.142.237-.386.145-.594z"/><path d="M5 15.1Q7 10.4 12 8.9M31 15.1Q29 10.4 24 8.9" fill="none" stroke="#664500" stroke-width="1.9" stroke-linecap="round"/><path fill="#664500" d="M9.6 21.2C9.6 21.2 13 22.3 18 22.3S26.4 21.2 26.4 21.2C27.5 21 28 22 27.6 24C26.6 28 23 32.1 18 32.1S9.4 28 8.4 24C8 22 8.5 21 9.6 21.2Z"/><path fill="#FFF" d="M10.3 23.2C10.3 23.2 13.5 24 18 24S25.7 23.2 25.7 23.2C25.7 23.2 23.5 27.1 18 27.1S10.3 23.2 10.3 23.2Z"/><path fill="#5DADEC" d="M8.2 17.3C6 19.6 1 23.5 1 27a5 5 0 0 0 10 0C11 23.5 9.6 19.2 8.2 17.3ZM27.8 17.3C30 19.6 35 23.5 35 27a5 5 0 0 1-10 0C25 23.5 26.4 19.2 27.8 17.3Z"/></g>
<g id="thinking"><circle cx="1387.4" cy="540" r="24.9" fill="#FFCB4C"/><ellipse cx="1380.10" cy="531.86" rx="3.1" ry="3.9" fill="#65471B"/><ellipse cx="1396.76" cy="532.91" rx="2.9" ry="3.7" fill="#65471B"/><path d="M1374.68 523.77 Q1380.34 520.37 1386.17 524.09M1392.72 528.95 Q1398.54 526.68 1404.37 530.16M1382.77 545.21 Q1388.83 543.67 1393.69 547.72" fill="none" stroke="#65471B" stroke-width="2.0" stroke-linecap="round"/><path d="M1375.24 543.67 Q1376.70 541.41 1378.96 543.03 L1380.74 547.07 L1380.10 552.09 L1395.31 549.17 Q1397.90 549.09 1397.41 551.12 Q1396.93 552.73 1394.90 553.22 L1388.03 554.84 Q1389.64 556.13 1388.67 557.75 Q1389.64 559.37 1388.43 560.99 Q1389.24 562.93 1387.62 564.22 Q1387.22 566.65 1383.98 567.46 Q1379.94 569.40 1375.08 566.97 Q1370.23 564.06 1369.82 558.40 Q1369.82 555.16 1373.46 551.28 Q1376.86 547.88 1375.89 545.45 Z" fill="#F19020"/></g>
<g id="angry"><circle cx="1559.1" cy="544.1" r="29.6" fill="#DA2F47"/><ellipse cx="1550.03" cy="547.32" rx="4.1" ry="5.3" fill="#292F33"/><ellipse cx="1568.23" cy="547.32" rx="4.1" ry="5.3" fill="#292F33"/><path d="M1540.30 539.31 Q1550.03 539.31 1554.31 544.40M1577.97 539.31 Q1568.23 539.31 1563.95 544.40" fill="none" stroke="#292F33" stroke-width="2.6" stroke-linecap="round"/><path d="M1546.85 564.79 Q1551.40 557.32 1559.13 557.14 Q1566.87 557.32 1571.41 564.79 Q1565.96 561.15 1559.13 561.33 Q1552.31 561.15 1546.85 564.79 Z" fill="#292F33" stroke="#292F33" stroke-width="0.6" stroke-linejoin="round"/></g>
<g id="check"><rect x="1435" y="551.8" width="74" height="74.3" rx="8.2" fill="#77B255"/><polyline points="1451.9,595.4 1466.7,608.8 1492,569.3" fill="none" stroke="#fff" stroke-width="11.2" stroke-linecap="round" stroke-linejoin="round"/></g>
<g id="hourly">
<line x1="1211" y1="723.4" x2="1757.5" y2="723.4" stroke="#eeeeee" stroke-width="1"/>
<line x1="1211" y1="792.3" x2="1757.5" y2="792.3" stroke="#eeeeee" stroke-width="1"/>
<line x1="1211" y1="861.1" x2="1757.5" y2="861.1" stroke="#eeeeee" stroke-width="1"/>
<rect x="1210.80" y="809.10" width="20.9" height="120.90" fill="#56CBE6"/>
<rect x="1233.62" y="847.80" width="20.9" height="82.20" fill="#56CBE6"/>
<rect x="1256.45" y="869.10" width="20.9" height="60.90" fill="#56CBE6"/>
<rect x="1279.27" y="889.40" width="20.9" height="40.60" fill="#56CBE6"/>
<rect x="1302.10" y="890.60" width="20.9" height="39.40" fill="#56CBE6"/>
<rect x="1324.92" y="888.40" width="20.9" height="41.60" fill="#56CBE6"/>
<rect x="1347.75" y="870.60" width="20.9" height="59.40" fill="#56CBE6"/>
<rect x="1370.58" y="829.10" width="20.9" height="100.90" fill="#56CBE6"/>
<rect x="1393.40" y="770.00" width="20.9" height="160.00" fill="#56CBE6"/>
<rect x="1416.22" y="738.75" width="20.9" height="191.25" fill="#56CBE6"/>
<rect x="1439.05" y="701.25" width="20.9" height="228.75" fill="#56CBE6"/>
<rect x="1461.88" y="711.90" width="20.9" height="218.10" fill="#56CBE6"/>
<rect x="1484.70" y="702.20" width="20.9" height="227.80" fill="#56CBE6"/>
<rect x="1507.52" y="705.90" width="20.9" height="224.10" fill="#56CBE6"/>
<rect x="1530.35" y="713.75" width="20.9" height="216.25" fill="#56CBE6"/>
<rect x="1553.17" y="720.00" width="20.9" height="210.00" fill="#56CBE6"/>
<rect x="1576.00" y="720.90" width="20.9" height="209.10" fill="#56CBE6"/>
<rect x="1598.82" y="722.80" width="20.9" height="207.20" fill="#56CBE6"/>
<rect x="1621.65" y="689.70" width="20.9" height="240.30" fill="#56CBE6"/>
<rect x="1644.47" y="726.25" width="20.9" height="203.75" fill="#56CBE6"/>
<rect x="1667.30" y="726.25" width="20.9" height="203.75" fill="#56CBE6"/>
<rect x="1690.12" y="736.25" width="20.9" height="193.75" fill="#56CBE6"/>
<rect x="1712.95" y="743.40" width="20.9" height="186.60" fill="#56CBE6"/>
<rect x="1735.78" y="756.60" width="20.9" height="173.40" fill="#56CBE6"/>
<line x1="1209.5" y1="930.5" x2="1757.5" y2="930.5" stroke="#CFD6F2" stroke-width="1"/>
<line x1="1209.83" y1="930.0" x2="1209.83" y2="938.4" stroke="#D3D8F1" stroke-width="1.1"/>
<line x1="1232.65" y1="930.0" x2="1232.65" y2="938.4" stroke="#D3D8F1" stroke-width="1.1"/>
<line x1="1255.48" y1="930.0" x2="1255.48" y2="938.4" stroke="#D3D8F1" stroke-width="1.1"/>
<line x1="1278.30" y1="930.0" x2="1278.30" y2="938.4" stroke="#D3D8F1" stroke-width="1.1"/>
<line x1="1301.13" y1="930.0" x2="1301.13" y2="938.4" stroke="#D3D8F1" stroke-width="1.1"/>
<line x1="1323.95" y1="930.0" x2="1323.95" y2="938.4" stroke="#D3D8F1" stroke-width="1.1"/>
<line x1="1346.78" y1="930.0" x2="1346.78" y2="938.4" stroke="#D3D8F1" stroke-width="1.1"/>
<line x1="1369.61" y1="930.0" x2="1369.61" y2="938.4" stroke="#D3D8F1" stroke-width="1.1"/>
<line x1="1392.43" y1="930.0" x2="1392.43" y2="938.4" stroke="#D3D8F1" stroke-width="1.1"/>
<line x1="1415.25" y1="930.0" x2="1415.25" y2="938.4" stroke="#D3D8F1" stroke-width="1.1"/>
<line x1="1438.08" y1="930.0" x2="1438.08" y2="938.4" stroke="#D3D8F1" stroke-width="1.1"/>
<line x1="1460.90" y1="930.0" x2="1460.90" y2="938.4" stroke="#D3D8F1" stroke-width="1.1"/>
<line x1="1483.73" y1="930.0" x2="1483.73" y2="938.4" stroke="#D3D8F1" stroke-width="1.1"/>
<line x1="1506.55" y1="930.0" x2="1506.55" y2="938.4" stroke="#D3D8F1" stroke-width="1.1"/>
<line x1="1529.38" y1="930.0" x2="1529.38" y2="938.4" stroke="#D3D8F1" stroke-width="1.1"/>
<line x1="1552.20" y1="930.0" x2="1552.20" y2="938.4" stroke="#D3D8F1" stroke-width="1.1"/>
<line x1="1575.03" y1="930.0" x2="1575.03" y2="938.4" stroke="#D3D8F1" stroke-width="1.1"/>
<line x1="1597.86" y1="930.0" x2="1597.86" y2="938.4" stroke="#D3D8F1" stroke-width="1.1"/>
<line x1="1620.68" y1="930.0" x2="1620.68" y2="938.4" stroke="#D3D8F1" stroke-width="1.1"/>
<line x1="1643.50" y1="930.0" x2="1643.50" y2="938.4" stroke="#D3D8F1" stroke-width="1.1"/>
<line x1="1666.33" y1="930.0" x2="1666.33" y2="938.4" stroke="#D3D8F1" stroke-width="1.1"/>
<line x1="1689.15" y1="930.0" x2="1689.15" y2="938.4" stroke="#D3D8F1" stroke-width="1.1"/>
<line x1="1711.98" y1="930.0" x2="1711.98" y2="938.4" stroke="#D3D8F1" stroke-width="1.1"/>
<line x1="1734.80" y1="930.0" x2="1734.80" y2="938.4" stroke="#D3D8F1" stroke-width="1.1"/>
<line x1="1757.63" y1="930.0" x2="1757.63" y2="938.4" stroke="#D3D8F1" stroke-width="1.1"/>
<text transform="translate(1225.8,946.6) rotate(-90) scale(0.89,1)" text-anchor="end" font-size="11.7" fill="#727272">12am</text>
<text transform="translate(1248.7,946.6) rotate(-90) scale(0.89,1)" text-anchor="end" font-size="11.7" fill="#727272">1am</text>
<text transform="translate(1271.5,946.6) rotate(-90) scale(0.89,1)" text-anchor="end" font-size="11.7" fill="#727272">2am</text>
<text transform="translate(1294.3,946.6) rotate(-90) scale(0.89,1)" text-anchor="end" font-size="11.7" fill="#727272">3am</text>
<text transform="translate(1317.1,946.6) rotate(-90) scale(0.89,1)" text-anchor="end" font-size="11.7" fill="#727272">4am</text>
<text transform="translate(1340.0,946.6) rotate(-90) scale(0.89,1)" text-anchor="end" font-size="11.7" fill="#727272">5am</text>
<text transform="translate(1362.8,946.6) rotate(-90) scale(0.89,1)" text-anchor="end" font-size="11.7" fill="#727272">6am</text>
<text transform="translate(1385.6,946.6) rotate(-90) scale(0.89,1)" text-anchor="end" font-size="11.7" fill="#727272">7am</text>
<text transform="translate(1408.4,946.6) rotate(-90) scale(0.89,1)" text-anchor="end" font-size="11.7" fill="#727272">8am</text>
<text transform="translate(1431.3,946.6) rotate(-90) scale(0.89,1)" text-anchor="end" font-size="11.7" fill="#727272">9am</text>
<text transform="translate(1454.1,946.6) rotate(-90) scale(0.89,1)" text-anchor="end" font-size="11.7" fill="#727272">10am</text>
<text transform="translate(1476.9,946.6) rotate(-90) scale(0.89,1)" text-anchor="end" font-size="11.7" fill="#727272">11am</text>
<text transform="translate(1499.7,946.6) rotate(-90) scale(0.89,1)" text-anchor="end" font-size="11.7" fill="#727272">12pm</text>
<text transform="translate(1522.6,946.6) rotate(-90) scale(0.89,1)" text-anchor="end" font-size="11.7" fill="#727272">1pm</text>
<text transform="translate(1545.4,946.6) rotate(-90) scale(0.89,1)" text-anchor="end" font-size="11.7" fill="#727272">2pm</text>
<text transform="translate(1568.2,946.6) rotate(-90) scale(0.89,1)" text-anchor="end" font-size="11.7" fill="#727272">3pm</text>
<text transform="translate(1591.0,946.6) rotate(-90) scale(0.89,1)" text-anchor="end" font-size="11.7" fill="#727272">4pm</text>
<text transform="translate(1613.9,946.6) rotate(-90) scale(0.89,1)" text-anchor="end" font-size="11.7" fill="#727272">5pm</text>
<text transform="translate(1636.7,946.6) rotate(-90) scale(0.89,1)" text-anchor="end" font-size="11.7" fill="#727272">6pm</text>
<text transform="translate(1659.5,946.6) rotate(-90) scale(0.89,1)" text-anchor="end" font-size="11.7" fill="#727272">7pm</text>
<text transform="translate(1682.3,946.6) rotate(-90) scale(0.89,1)" text-anchor="end" font-size="11.7" fill="#727272">8pm</text>
<text transform="translate(1705.2,946.6) rotate(-90) scale(0.89,1)" text-anchor="end" font-size="11.7" fill="#727272">9pm</text>
<text transform="translate(1728.0,946.6) rotate(-90) scale(0.89,1)" text-anchor="end" font-size="11.7" fill="#727272">10pm</text>
<text transform="translate(1750.8,946.6) rotate(-90) scale(0.89,1)" text-anchor="end" font-size="11.7" fill="#727272">11pm</text>
<text transform="translate(1196.8,728.2) scale(0.95,1)" text-anchor="end" font-size="11.5" fill="#666">15K</text>
<text transform="translate(1196.8,796.7) scale(0.95,1)" text-anchor="end" font-size="11.5" fill="#666">10K</text>
<text transform="translate(1196.8,865.8) scale(0.95,1)" text-anchor="end" font-size="11.5" fill="#666">5K</text>
<text transform="translate(1196.8,934.6) scale(0.95,1)" text-anchor="end" font-size="11.5" fill="#666">0</text>
</g>
<g id="daily">
<line x1="93" y1="622.9" x2="607.6" y2="622.9" stroke="#dcdcdc" stroke-width="1.2" stroke-dasharray="1.1 1.1"/>
<line x1="93" y1="692.4" x2="607.6" y2="692.4" stroke="#dcdcdc" stroke-width="1.2" stroke-dasharray="1.1 1.1"/>
<line x1="93" y1="751.6" x2="607.6" y2="751.6" stroke="#c4c6d6" stroke-width="1.2" stroke-dasharray="1.1 1.1"/>
<polyline points="115.8,655.8 193.7,669.4 272.0,627.5 349.6,612.4 428,596.3 506.1,594.5 584.2,591.7" fill="none" stroke="#4DC5E2" stroke-width="2.4" stroke-linejoin="round"/>
<circle cx="115.8" cy="655.8" r="4.1" fill="#4DC5E2"/>
<circle cx="193.7" cy="669.4" r="4.1" fill="#4DC5E2"/>
<circle cx="272.0" cy="627.5" r="4.1" fill="#4DC5E2"/>
<circle cx="349.6" cy="612.4" r="4.1" fill="#4DC5E2"/>
<circle cx="428" cy="596.3" r="4.1" fill="#4DC5E2"/>
<circle cx="506.1" cy="594.5" r="4.1" fill="#4DC5E2"/>
<circle cx="584.2" cy="591.7" r="4.1" fill="#4DC5E2"/>
<text x="76.6" y="627.9" text-anchor="end" font-size="13.2" fill="#7a7a7a">40k</text>
<text x="76.6" y="697.5" text-anchor="end" font-size="13.2" fill="#7a7a7a">30k</text>
<text x="76.6" y="756.7" text-anchor="end" font-size="13.2" fill="#7a7a7a">0</text>
<text x="116.6" y="779.5" text-anchor="middle" font-size="13.2" fill="#7a7a7a">9 May</text>
<text x="194.5" y="779.5" text-anchor="middle" font-size="13.2" fill="#7a7a7a">10 May</text>
<text x="272.8" y="779.5" text-anchor="middle" font-size="13.2" fill="#7a7a7a">11 May</text>
<text x="350.4" y="779.5" text-anchor="middle" font-size="13.2" fill="#7a7a7a">12 May</text>
<text x="428.8" y="779.5" text-anchor="middle" font-size="13.2" fill="#7a7a7a">13 May</text>
<text x="506.9" y="779.5" text-anchor="middle" font-size="13.2" fill="#7a7a7a">14 May</text>
<text x="585.0" y="779.5" text-anchor="middle" font-size="13.2" fill="#7a7a7a">15 May</text>
<rect x="613" y="578" width="1.2" height="1.2" fill="#777"/>
</g>
<g id="retweet">
<line x1="10.7" y1="883.2" x2="660.5" y2="883.2" stroke="#dedede" stroke-width="1.4"/>
<line x1="577.2" y1="855.5" x2="577.2" y2="945" stroke="#ebebeb" stroke-width="1.2"/>
<text x="21.1" y="870.6" font-size="11.2" fill="#444" textLength="29.8" lengthAdjust="spacingAndGlyphs" >TITLE</text>
<text x="590.5" y="870.6" font-size="11.2" fill="#444" textLength="62.2" lengthAdjust="spacingAndGlyphs" >RETWEETS</text>
<g id="avatar"><clipPath id="avc"><rect x="0" y="0" width="49.8" height="49.8" rx="2.6"/></clipPath><g clip-path="url(#avc)" transform="translate(14,888.1)"><g filter="url(#avblur)"><rect width="50" height="50" fill="#FFD608"/><rect x="0" y="20.6" width="50" height="7.2" fill="#140d05"/><path d="M14 27.5 L9.5 33 L6.5 42 L4 45 L11.5 46.6 L12.5 44 L10.5 43 L14.5 35.5 L19 41.5 L17 43.8 L21.5 45 L22 42.5 L20.5 38 L18.5 31 L19.5 27.5 Z" fill="#FCDA12" stroke="#4a3510" stroke-width="0.9" stroke-linejoin="round"/><ellipse cx="13.6" cy="17.9" rx="12.7" ry="7.9" fill="#F3E6DA" stroke="#a08a60" stroke-width="0.7"/><ellipse cx="8.4" cy="20.4" rx="2.4" ry="2.7" fill="#f4f2f4" stroke="#9a8f98" stroke-width="0.6"/><ellipse cx="19.2" cy="20.6" rx="2.4" ry="2.7" fill="#f4f2f4" stroke="#9a8f98" stroke-width="0.6"/><circle cx="9" cy="21" r="0.7" fill="#555"/><circle cx="18.6" cy="21.2" r="0.7" fill="#555"/><path d="M0.5 25.2 Q4 23.5 6 25.5 Q9 28.5 13.5 27" fill="none" stroke="#3b2a10" stroke-width="1.6" stroke-linecap="round"/><path d="M14.5 25.2 L27.5 22.3 L27.5 24.6 Z" fill="#f4efe8"/><g fill="#d9a68c"><circle cx="29.2" cy="23.4" r="1.1"/><circle cx="33" cy="23.4" r="1.1"/><circle cx="36.8" cy="23.4" r="1.1"/><circle cx="40.6" cy="23.4" r="1.1"/><circle cx="44.4" cy="23.4" r="1.1"/></g><path d="M4 45.5 L11.5 46.8 M16.8 44 L21.6 45.2" stroke="#3b2a10" stroke-width="1.5" stroke-linecap="round"/></g></g></g>
<path transform="translate(70.9,891.6) scale(0.5)" fill="#1DA1F2" d="M23.6 2.3c-.9.4-1.800.65-2.800.77 1-.6 1.770-1.550 2.130-2.680-.94.560-1.980.96-3.080 1.180A4.850 4.850 0 0 0 16.300 0c-2.680 0-4.850 2.170-4.850 4.850 0 .380.040.750.130 1.100C7.550 5.750 3.980 3.820 1.590.890c-.42.720-.66 1.550-.66 2.440 0 1.680.860 3.170 2.160 4.040-.8-.03-1.540-.24-2.200-.6v.06c0 2.350 1.670 4.310 3.890 4.760-.41.110-.84.170-1.280.170-.31 0-.62-.03-.91-.09.62 1.930 2.410 3.330 4.530 3.370A9.730 9.730 0 0 1 0 17.050 13.730 13.730 0 0 0 7.430 19.230c8.920 0 13.800-7.390 13.800-13.800l-.02-.63c.95-.68 1.770-1.530 2.420-2.500z"/>
<text x="89.7" y="901.2" font-size="13.6" fill="#333" font-weight="bold" textLength="262.5" lengthAdjust="spacingAndGlyphs" >To_pouli_tou_Ro (To_pouli_tou_Rouli)</text>
<text x="356.3" y="901.2" font-size="12.2" fill="#999" textLength="105.2" lengthAdjust="spacingAndGlyphs" >@To_pouli_tou_Ro</text>
<text x="509.9" y="900.6" font-size="12.2" fill="#999" textLength="49.9" lengthAdjust="spacingAndGlyphs" >14th May</text>
<text x="606.7" y="905.6" font-size="13.8" fill="#2A8DC5" textLength="21.9" lengthAdjust="spacingAndGlyphs" >305</text>
<text x="71.5" y="920.7" font-size="13.4" fill="#444" textLength="499.5" lengthAdjust="spacingAndGlyphs">Είχαμε δυο μήνες τους σελέμπριτιζ να σκοτώνονται ποιος πρωτόκολλησε <tspan font-weight="bold" fill="#333">κορονοϊό</tspan>,</text>
<text x="72.6" y="935.9" font-size="13.4" fill="#444" textLength="228.8" lengthAdjust="spacingAndGlyphs" >τώρα σπρώχνονται ποιος θα μεταλάβει</text>
</g>
</svg>
</body></html>
